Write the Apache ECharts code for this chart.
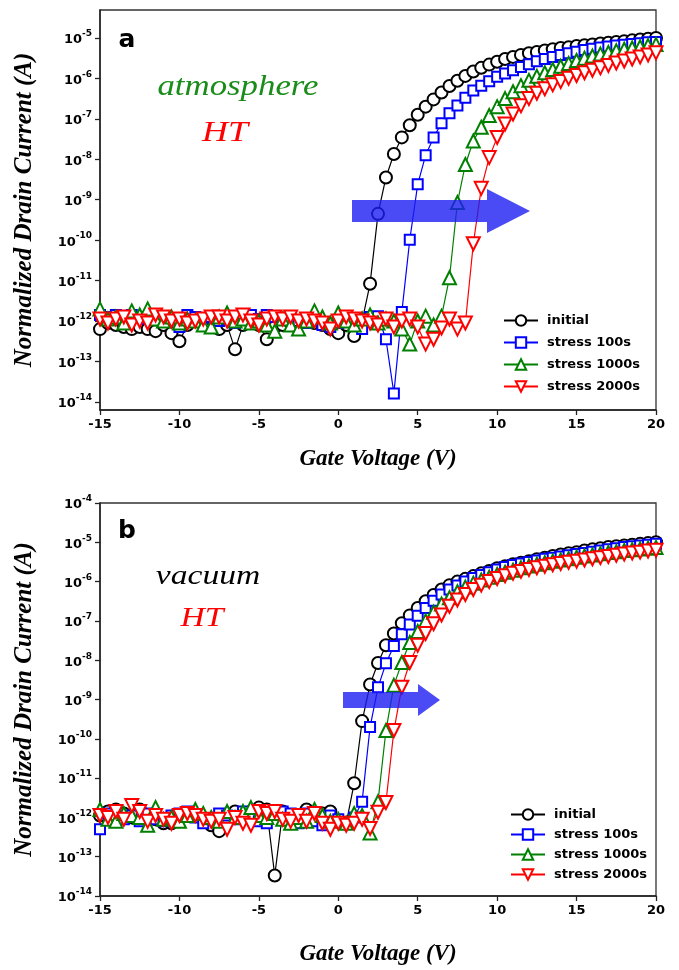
<!DOCTYPE html>
<html>
<head>
<meta charset="utf-8">
<title>Transfer curves - HT stress</title>
<script src="https://cdn.jsdelivr.net/npm/echarts@6/dist/echarts.min.js"></script>
<style>
html,body{margin:0;padding:0;background:#fff;}
#chart{width:679px;height:970px;}
</style>
</head>
<body>
<div id="chart"></div>
<script>
// gate voltage sweep (V)
var gateVoltage = [-15,-14.5,-14,-13.5,-13,-12.5,-12,-11.5,-11,-10.5,
	-10,-9.5,-9,-8.5,-8,-7.5,-7,-6.5,-6,-5.5,
	-5,-4.5,-4,-3.5,-3,-2.5,-2,-1.5,-1,-0.5,
	0,0.5,1,1.5,2,2.5,3,3.5,4,4.5,
	5,5.5,6,6.5,7,7.5,8,8.5,9,9.5,
	10,10.5,11,11.5,12,12.5,13,13.5,14,14.5,
	15,15.5,16,16.5,17,17.5,18,18.5,19,19.5,20];
var yTicksA = [-14,-13,-12,-11,-10,-9,-8,-7,-6,-5];
var seriesNames = ['initial','stress 100s','stress 1000s','stress 2000s'];

// panel a (atmosphere), log10 of normalized drain current
var atmInitial = [-12.2,-12.05,-12.1,-12.15,-12.2,-12.15,-12.2,-12.25,-12.1,-12.3,
	-12.5,-12.1,-12.0,-12.05,-12.15,-12.2,-12.1,-12.7,-12.1,-12.05,
	-12.1,-12.45,-12.15,-12.1,-12.05,-12.0,-11.95,-12.05,-12.1,-12.2,
	-12.3,-12.1,-12.37,-12.0,-11.08,-9.35,-8.45,-7.87,-7.46,-7.16,
	-6.90,-6.70,-6.52,-6.35,-6.19,-6.06,-5.94,-5.83,-5.74,-5.66,
	-5.59,-5.52,-5.47,-5.42,-5.38,-5.35,-5.31,-5.28,-5.25,-5.23,
	-5.20,-5.18,-5.16,-5.14,-5.12,-5.10,-5.08,-5.06,-5.04,-5.02,-5.00];
var atm100 = [-11.85,-11.9,-11.85,-11.9,-11.85,-11.9,-11.95,-11.85,-11.9,-11.95,
	-12.15,-11.85,-11.9,-11.95,-11.9,-12.0,-11.95,-12.05,-11.9,-11.85,
	-11.95,-11.85,-11.9,-11.95,-11.9,-12.0,-12.05,-11.95,-12.1,-12.15,
	-12.05,-12.0,-11.95,-12.2,-11.9,-11.88,-12.45,-13.79,-11.78,-9.99,
	-8.62,-7.90,-7.46,-7.11,-6.86,-6.67,-6.48,-6.30,-6.18,-6.07,
	-5.96,-5.88,-5.80,-5.72,-5.65,-5.58,-5.52,-5.47,-5.42,-5.38,
	-5.34,-5.30,-5.27,-5.24,-5.21,-5.19,-5.17,-5.15,-5.13,-5.11,-5.10];
var atm1000 = [-11.7,-11.95,-11.9,-12.05,-11.75,-11.85,-11.7,-11.95,-12.0,-11.9,
	-12.05,-11.95,-12.0,-12.1,-12.15,-11.9,-11.8,-12.0,-11.95,-12.05,
	-12.0,-12.1,-12.25,-11.95,-12.1,-12.2,-12.0,-11.75,-11.9,-12.05,
	-11.8,-12.0,-12.1,-11.95,-11.85,-12.05,-11.95,-12.0,-12.2,-12.57,
	-12.0,-11.88,-12.1,-11.88,-10.93,-9.07,-8.13,-7.55,-7.21,-6.92,
	-6.70,-6.50,-6.33,-6.18,-6.05,-5.95,-5.86,-5.78,-5.70,-5.63,
	-5.56,-5.50,-5.45,-5.40,-5.36,-5.32,-5.28,-5.25,-5.22,-5.19,-5.16];
var atm2000 = [-11.95,-12.05,-11.95,-11.9,-12.1,-12.0,-12.05,-11.85,-11.9,-12.0,
	-11.95,-12.05,-12.0,-11.95,-11.9,-11.9,-12.0,-11.9,-11.85,-12.0,
	-12.1,-11.95,-11.9,-11.95,-11.9,-12.0,-11.95,-12.0,-12.05,-12.2,
	-12.0,-11.9,-11.95,-12.0,-12.05,-12.1,-11.95,-12.15,-12.0,-11.95,
	-12.15,-12.57,-12.45,-12.17,-11.95,-12.2,-12.05,-10.09,-8.72,-7.96,
	-7.46,-7.13,-6.88,-6.68,-6.50,-6.37,-6.26,-6.16,-6.08,-6.00,
	-5.93,-5.86,-5.80,-5.74,-5.68,-5.62,-5.57,-5.52,-5.47,-5.42,-5.37];

// panel b (vacuum), log10 of normalized drain current
var vacInitial = [-11.95,-11.85,-11.8,-11.9,-12.0,-11.8,-11.95,-12.05,-12.15,-12.15,
	-12.0,-11.9,-11.95,-12.05,-12.2,-12.35,-12.1,-11.85,-11.9,-11.85,
	-11.75,-11.8,-13.48,-11.85,-12.0,-12.05,-11.8,-11.95,-11.9,-11.85,
	-12.1,-12.15,-11.13,-9.55,-8.62,-8.07,-7.62,-7.32,-7.06,-6.86,
	-6.67,-6.50,-6.34,-6.20,-6.09,-6.00,-5.93,-5.86,-5.79,-5.73,
	-5.66,-5.61,-5.56,-5.52,-5.48,-5.43,-5.39,-5.35,-5.31,-5.28,
	-5.25,-5.21,-5.18,-5.15,-5.12,-5.10,-5.08,-5.06,-5.04,-5.02,-5.00];
var vac100 = [-12.3,-11.9,-11.95,-12.05,-11.95,-12.1,-11.9,-12.05,-12.1,-11.95,
	-11.9,-11.85,-12.0,-12.15,-12.05,-11.9,-11.95,-12.05,-11.85,-12.0,
	-12.1,-12.15,-11.9,-11.85,-11.9,-12.15,-11.9,-12.1,-12.2,-11.95,
	-12.05,-12.15,-12.0,-11.6,-9.7,-8.69,-8.08,-7.64,-7.34,-7.09,
	-6.87,-6.67,-6.49,-6.33,-6.20,-6.10,-6.00,-5.91,-5.83,-5.76,
	-5.69,-5.63,-5.58,-5.54,-5.50,-5.46,-5.42,-5.39,-5.36,-5.33,
	-5.30,-5.27,-5.24,-5.21,-5.18,-5.15,-5.12,-5.10,-5.08,-5.06,-5.04];
var vac1000 = [-11.8,-12.05,-12.1,-11.9,-11.95,-12.0,-12.2,-11.75,-12.05,-12.0,
	-12.1,-11.95,-11.8,-11.9,-12.0,-12.1,-11.85,-12.0,-11.85,-11.75,
	-11.95,-12.0,-11.9,-12.05,-12.15,-12.0,-12.1,-11.8,-11.95,-12.1,
	-12.05,-12.15,-11.9,-11.95,-12.4,-11.6,-9.79,-8.64,-8.06,-7.55,
	-7.27,-7.00,-6.78,-6.57,-6.41,-6.26,-6.14,-6.04,-5.96,-5.89,
	-5.82,-5.76,-5.71,-5.65,-5.60,-5.56,-5.52,-5.48,-5.45,-5.42,
	-5.38,-5.35,-5.32,-5.29,-5.26,-5.24,-5.21,-5.19,-5.17,-5.15,-5.13];
var vac2000 = [-11.95,-12.0,-11.85,-12.05,-11.7,-11.85,-12.1,-11.95,-12.05,-12.15,
	-11.95,-11.9,-11.95,-12.05,-12.1,-12.05,-12.3,-12.0,-12.15,-12.2,
	-11.85,-11.9,-11.85,-12.05,-12.1,-11.95,-12.1,-11.9,-12.15,-12.3,
	-12.15,-12.2,-12.15,-12.05,-12.28,-11.87,-11.62,-9.79,-8.69,-8.06,
	-7.62,-7.32,-7.07,-6.85,-6.63,-6.47,-6.33,-6.20,-6.09,-6.00,
	-5.92,-5.85,-5.79,-5.74,-5.69,-5.65,-5.61,-5.57,-5.54,-5.51,
	-5.48,-5.45,-5.42,-5.39,-5.36,-5.33,-5.30,-5.27,-5.25,-5.22,-5.20];

var colors = ['#000000','#0000ff','#008000','#ff0000'];
var symbols = ['emptyCircle','emptyRect','emptyTriangle','emptyTriangle'];
var symbolSizes = [12,10,13,13];
var symbolRotates = [0,0,0,180];

var sansBold = {fontFamily:'DejaVu Sans', fontWeight:'bold', fontSize:13, color:'#000'};
var titleFont = {fontFamily:'Liberation Serif', fontStyle:'italic', fontWeight:'bold', color:'#000'};

function toPairs(ys){
	return gateVoltage.map(function(v, i){ return [v, ys[i]]; });
}

function buildSeries(list, idx){
	return list.map(function(ys, k){
		return {
			name: seriesNames[k],
			type: 'line',
			xAxisIndex: idx,
			yAxisIndex: idx,
			data: toPairs(ys),
			symbol: symbols[k],
			symbolSize: symbolSizes[k],
			symbolRotate: symbolRotates[k],
			lineStyle: {color: colors[k], width: 1.2},
			itemStyle: {color: colors[k], borderWidth: 1.3},
			emphasis: {disabled: true}
		};
	});
}

function powLabel(v){
	return '{b|10}{e|' + v + '}';
}
var powRich = {
	b: {fontFamily:'DejaVu Sans', fontWeight:'bold', fontSize:13, color:'#000', verticalAlign:'bottom', lineHeight:17},
	e: {fontFamily:'DejaVu Sans', fontWeight:'bold', fontSize:9, color:'#000', verticalAlign:'top'}
};

function xAxisFor(idx, gap){
	return {
		type: 'value', gridIndex: idx, min: -15, max: 20, interval: 5,
		name: 'Gate Voltage (V)', nameLocation: 'middle', nameGap: gap,
		nameTextStyle: Object.assign({fontSize: 23}, titleFont),
		axisLine: {onZero: false, lineStyle: {color: '#222', width: 1.5}},
		axisTick: {length: 5, lineStyle: {color: '#222', width: 1.3}},
		axisLabel: Object.assign({margin: 8}, sansBold),
		splitLine: {show: false}
	};
}

var yAxisA = {
	type: 'value', gridIndex: 0, min: -14.2, max: -4.31,
	name: 'Normalized Drain Current (A)', nameLocation: 'middle', nameGap: 63,
	nameTextStyle: Object.assign({fontSize: 25}, titleFont),
	axisLine: {onZero: false, lineStyle: {color: '#222', width: 1.5}},
	axisTick: {customValues: yTicksA, length: 5, lineStyle: {color: '#222', width: 1.3}},
	axisLabel: {customValues: yTicksA, formatter: powLabel, rich: powRich, margin: 8},
	splitLine: {show: false}
};
var yAxisB = {
	type: 'value', gridIndex: 1, min: -14, max: -4, interval: 1,
	name: 'Normalized Drain Current (A)', nameLocation: 'middle', nameGap: 63,
	nameTextStyle: Object.assign({fontSize: 25}, titleFont),
	axisLine: {onZero: false, lineStyle: {color: '#222', width: 1.5}},
	axisTick: {length: 5, lineStyle: {color: '#222', width: 1.3}},
	axisLabel: {formatter: powLabel, rich: powRich, margin: 8},
	splitLine: {show: false}
};

function legendAt(left, top, gap){
	return {
		data: seriesNames, orient: 'vertical', left: left, top: top,
		itemWidth: 34, itemHeight: 13, itemGap: gap,
		textStyle: Object.assign({padding: [0, 0, 0, 4]}, sansBold),
		selectedMode: false
	};
}

function label(text, x, y, size, color, scale){
	return {
		type: 'text', x: x, y: y, scaleX: scale, z: 50,
		style: {text: text, fill: color, fontSize: size, fontFamily: 'Liberation Serif', fontStyle: 'italic',
			textAlign: 'center', textVerticalAlign: 'middle'}
	};
}
function panelTag(text, x, y){
	return {
		type: 'text', x: x, y: y, z: 50,
		style: {text: text, fill: '#000', fontSize: 25, fontFamily: 'DejaVu Sans', fontWeight: 'bold',
			textAlign: 'center', textVerticalAlign: 'middle'}
	};
}
function arrow(points){
	return {type: 'polygon', z: 100, shape: {points: points}, style: {fill: 'rgba(30,30,242,0.8)'}};
}

var chart = echarts.init(document.getElementById('chart'));
var option = {
	animation: false,
	backgroundColor: '#fff',
	grid: [
		{left: 100, top: 10, width: 556, height: 400, show: true, borderColor: '#333', borderWidth: 1.3},
		{left: 100, top: 503, width: 556, height: 393, show: true, borderColor: '#333', borderWidth: 1.3}
	],
	xAxis: [xAxisFor(0, 38), xAxisFor(1, 47)],
	yAxis: [yAxisA, yAxisB],
	legend: [legendAt(498, 309, 9), legendAt(505, 803, 7)],
	series: buildSeries([atmInitial, atm100, atm1000, atm2000], 0)
		.concat(buildSeries([vacInitial, vac100, vac1000, vac2000], 1)),
	graphic: [
		panelTag('a', 127, 40),
		panelTag('b', 127, 531),
		label('atmosphere', 238, 87, 29, '#198c19', 1.2),
		label('HT', 225, 133, 30, '#ff0000', 1.2),
		label('vacuum', 208, 577, 28, '#000000', 1.2),
		label('HT', 202, 619, 28, '#ff0000', 1.2),
		arrow([[352,200],[487,200],[487,189],[530,211],[487,233],[487,222],[352,222]]),
		arrow([[343,692],[418,692],[418,684],[440,700],[418,716],[418,708],[343,708]])
	]
};
chart.setOption(option);
</script>
</body>
</html>
